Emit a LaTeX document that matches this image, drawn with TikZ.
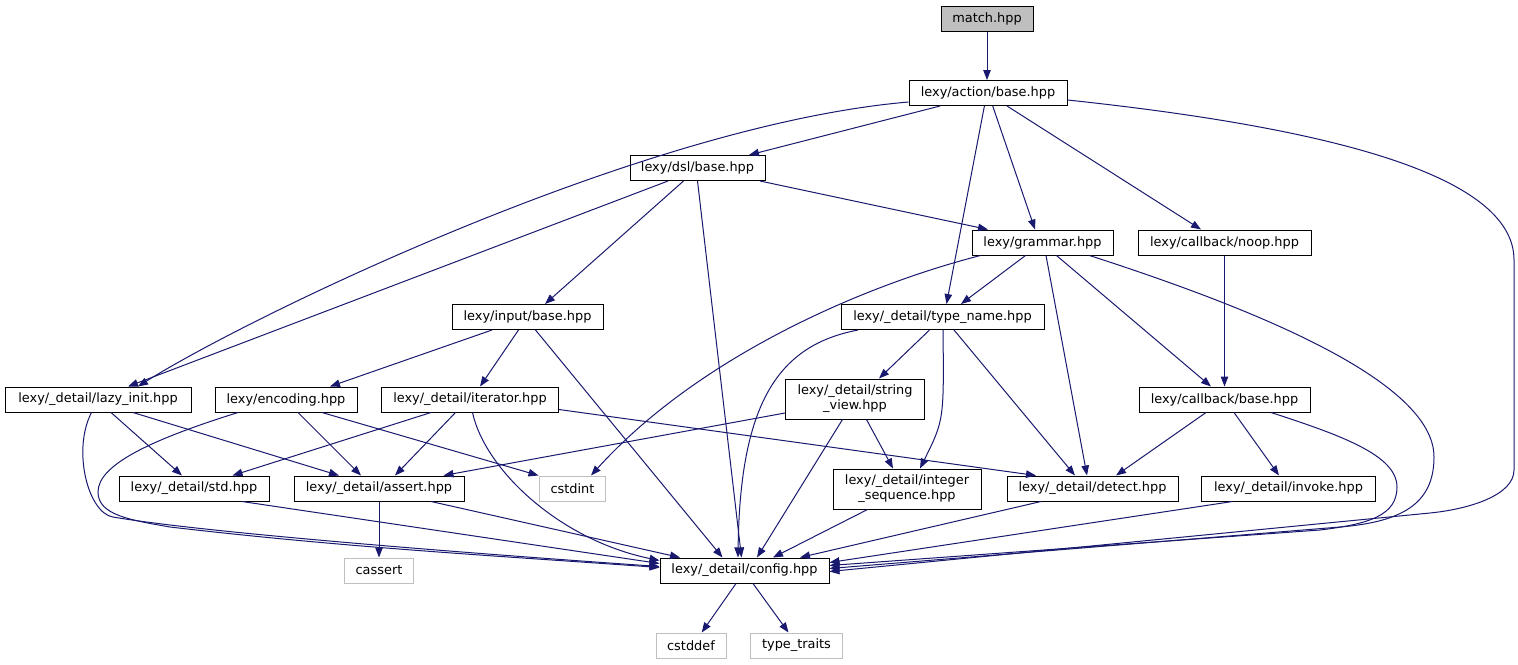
\documentclass[tikz,border=0pt]{standalone}
\usepackage{fontspec}
\setmainfont{DejaVu Sans}
\usetikzlibrary{arrows.meta}
\definecolor{edgeblue}{HTML}{191970}
\definecolor{ghostgrey}{HTML}{BFBFBF}
\newcommand{\nodefont}{\fontsize{12.9}{15}\selectfont}
\tikzset{
  box/.style={draw=black, fill=white, line width=1pt, minimum height=25pt, inner sep=0pt, font=\nodefont, align=center},
  box2/.style={box, minimum height=40pt},
  ghost/.style={box, draw=ghostgrey},
  root/.style={box, fill=ghostgrey},
  e/.style={draw=edgeblue, line width=1pt, -{Triangle[length=10pt,width=7.5pt,fill=edgeblue]}}
}
\begin{document}
\begin{tikzpicture}[x=1pt,y=-1pt]
\fill[white] (0,0) rectangle (1518,664);
\useasboundingbox (0,0) rectangle (1518,664);
% nodes
\node[root, minimum width=92pt] (match) at (987,18.5) {match.hpp};
\node[box, minimum width=158pt] (action) at (988,93) {lexy/action/base.hpp};
\node[box, minimum width=135pt] (dsl) at (697.5,168) {lexy/dsl/base.hpp};
\node[box, minimum width=141pt] (grammar) at (1042.5,242.5) {lexy/grammar.hpp};
\node[box, minimum width=173pt] (noop) at (1224.5,242.5) {lexy/callback/noop.hpp};
\node[box, minimum width=151pt] (input) at (527.5,317) {lexy/input/base.hpp};
\node[box, minimum width=203pt] (typename) at (942.5,317) {lexy/\_detail/type\_name.hpp};
\node[box, minimum width=186pt] (lazy) at (98,399.5) {lexy/\_detail/lazy\_init.hpp};
\node[box, minimum width=142pt] (encoding) at (286,399.5) {lexy/encoding.hpp};
\node[box, minimum width=177pt] (iterator) at (470,399.5) {lexy/\_detail/iterator.hpp};
\node[box2, minimum width=139pt] (strview) at (855,399) {lexy/\_detail/string\\\_view.hpp};
\node[box, minimum width=171pt] (cbbase) at (1224.5,399.5) {lexy/callback/base.hpp};
\node[box, minimum width=150pt] (std) at (194,488.5) {lexy/\_detail/std.hpp};
\node[box, minimum width=170pt] (assert) at (379,488.5) {lexy/\_detail/assert.hpp};
\node[ghost, minimum width=66pt] (cstdint) at (572.5,488.5) {cstdint};
\node[box2, minimum width=148pt] (intseq) at (907,489) {lexy/\_detail/integer\\\_sequence.hpp};
\node[box, minimum width=171pt] (detect) at (1092.5,488.5) {lexy/\_detail/detect.hpp};
\node[box, minimum width=174pt] (invoke) at (1288.5,488.5) {lexy/\_detail/invoke.hpp};
\node[ghost, minimum width=69pt] (cassert) at (379,570.5) {cassert};
\node[box, minimum width=169pt] (config) at (744.5,570.5) {lexy/\_detail/config.hpp};
\node[ghost, minimum width=70pt] (cstddef) at (691,645.5) {cstddef};
\node[ghost, minimum width=92pt] (typetraits) at (796.5,645.5) {type\_traits};
% edges
\draw[e] (match) -- (match |- action.north);
\draw[e] ([xshift=-48pt]action.south) -- ([xshift=51.5pt]dsl.north);
\draw[e] ([yshift=-9pt]action.west) .. controls (640,125) and (243,320) .. ([xshift=40pt]lazy.north);
\draw[e] ([xshift=-3.6pt]action.south) -- ([xshift=4pt]typename.north);
\draw[e] ([xshift=4.7pt]action.south) -- ([xshift=-7.5pt]grammar.north);
\draw[e] ([xshift=19pt]action.south) -- ([xshift=-23.5pt]noop.north);
\draw[e] ([yshift=-7pt]action.east) .. controls (1350,130) and (1514,180) .. (1514,260) -- (1514,470) .. controls (1514,495) and (1470,509) .. (1430,513) -- ([yshift=-1pt]config.east);
\draw[e] ([xshift=-29.5pt]dsl.south) -- ([xshift=30pt]lazy.north);
\draw[e] ([xshift=-14pt]dsl.south) -- ([xshift=17.5pt]input.north);
\draw[e] (dsl.south) -- ([xshift=-3pt]config.north);
\draw[e] ([xshift=62.5pt]dsl.south) -- ([xshift=-54.5pt]grammar.north);
\draw[e] ([xshift=-17pt]grammar.south) -- ([xshift=18.5pt]typename.north);
\draw[e] ([xshift=-62pt]grammar.south) .. controls (865,285) and (699,356) .. ([xshift=18.5pt]cstdint.north);
\draw[e] ([xshift=3.5pt]grammar.south) -- ([xshift=-5.5pt]detect.north);
\draw[e] ([xshift=14pt]grammar.south) -- ([xshift=-13.5pt]cbbase.north);
\draw[e] ([xshift=47pt]grammar.south) .. controls (1249,307) and (1434,380) .. (1434,457) .. controls (1434,505) and (1400,522) .. (1340,527) -- ([yshift=2pt]config.east);
\draw[e] (noop) -- (cbbase);
\draw[e] ([xshift=-35.5pt]input.south) -- ([xshift=44pt]encoding.north);
\draw[e] ([xshift=-9pt]input.south) -- ([xshift=10pt]iterator.north);
\draw[e] ([xshift=8pt]input.south) -- ([xshift=-22pt]config.north);
\draw[e] ([xshift=-84.5pt]typename.south) .. controls (780,345) and (740,400) .. ([xshift=-6.5pt]config.north);
\draw[e] ([xshift=-13pt]typename.south) -- ([xshift=24pt]strview.north);
\draw[e] ([xshift=0.5pt]typename.south) .. controls (944,420) .. ([xshift=13pt]intseq.north);
\draw[e] ([xshift=11.5pt]typename.south) -- ([xshift=-17.5pt]detect.north);
\draw[e] ([xshift=13pt]lazy.south) -- ([xshift=-12pt]std.north);
\draw[e] ([xshift=35pt]lazy.south) -- ([xshift=-40pt]assert.north);
\draw[e] ([xshift=-6.5pt]lazy.south) .. controls (72,450) and (88,513) .. (113,517) .. controls (200,532) and (450,552) .. ([yshift=4pt]config.west);
\draw[e] ([xshift=12pt]encoding.south) -- ([xshift=-18pt]assert.north);
\draw[e] ([xshift=36pt]encoding.south) -- ([xshift=-34pt]cstdint.north);
\draw[e] ([xshift=-48pt]encoding.south) .. controls (150,440) and (98,465) .. (98,492) .. controls (98,515) and (130,520) .. (170,527) .. controls (350,548) and (500,556) .. ([yshift=3pt]config.west);
\draw[e] ([xshift=-39pt]iterator.south) -- ([xshift=38.5pt]std.north);
\draw[e] ([xshift=-14.5pt]iterator.south) -- ([xshift=16pt]assert.north);
\draw[e] ([xshift=2.5pt]iterator.south) .. controls (485,470) and (560,540) .. ([yshift=10pt]config.west);
\draw[e] ([yshift=-10pt]iterator.east) -- ([xshift=-56.5pt]detect.north);
\draw[e] ([yshift=-14pt]strview.west) -- ([xshift=64.5pt]assert.north);
\draw[e] ([xshift=11.5pt]strview.south) -- ([xshift=-14pt]intseq.north);
\draw[e] ([xshift=-12.5pt]strview.south) -- ([xshift=12.5pt]config.north);
\draw[e] ([xshift=-18.5pt]cbbase.south) -- ([xshift=23.5pt]detect.north);
\draw[e] ([xshift=9.5pt]cbbase.south) -- ([xshift=-9.5pt]invoke.north);
\draw[e] ([xshift=46.5pt]cbbase.south) .. controls (1340,435) and (1397,455) .. (1397,487) .. controls (1397,515) and (1370,524) .. (1320,530) -- ([yshift=5pt]config.east);
\draw[e] ([xshift=48pt]std.south) -- ([yshift=7pt]config.west);
\draw[e] (assert) -- (cassert);
\draw[e] ([xshift=52pt]assert.south) -- ([xshift=-64.5pt]config.north);
\draw[e] ([xshift=-39.5pt]intseq.south) -- ([xshift=28.5pt]config.north);
\draw[e] ([xshift=-51.5pt]detect.south) -- ([xshift=55.5pt]config.north);
\draw[e] ([xshift=-56pt]invoke.south) -- ([yshift=8pt]config.east);
\draw[e] ([xshift=-8.5pt]config.south) -- ([xshift=10.7pt]cstddef.north);
\draw[e] ([xshift=8.5pt]config.south) -- ([xshift=-8pt]typetraits.north);
\end{tikzpicture}
\end{document}
